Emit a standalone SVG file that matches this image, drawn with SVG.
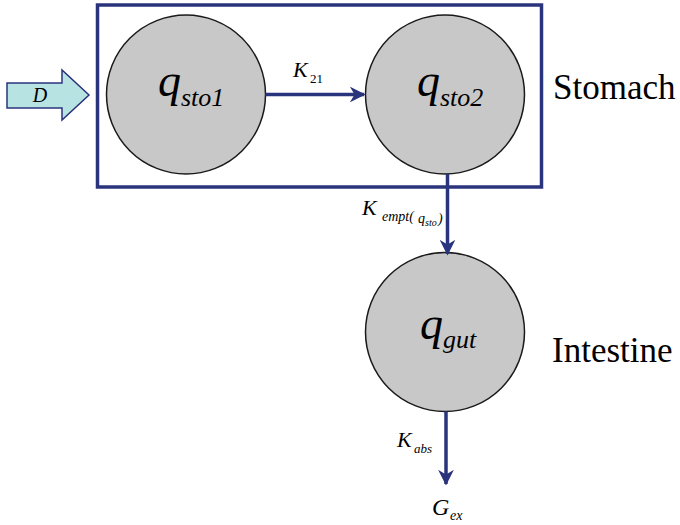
<svg xmlns="http://www.w3.org/2000/svg" width="680" height="525" viewBox="0 0 680 525">
<defs>
<marker id="ah" viewBox="0 0 10 10" refX="9" refY="5" markerWidth="4.5" markerHeight="4.5" markerUnits="strokeWidth" orient="auto">
<path d="M0,0 L10,5 L0,10 L3,5 Z" fill="#2a347c"/>
</marker>
</defs>
<rect x="97.5" y="5" width="444" height="182" fill="none" stroke="#2a347c" stroke-width="3.5"/>
<g id="input-D">
<path d="M7,83 L62,83 L62,70 L89,95 L62,120 L62,108 L7,108 Z" fill="#b8e3e3" stroke="#2a347c" stroke-width="1.5"/>
<text style="font-family:'Liberation Serif'" font-style="italic" x="40" y="102" font-size="20" text-anchor="middle">D</text>
</g>
<g id="q_sto1">
<circle fill="#c8c8c8" stroke="#1a1a1a" stroke-width="1.5" cx="186" cy="94.5" r="79.5"/>
<text style="font-family:'Liberation Serif'" font-style="italic" x="158" y="96" font-size="46">q</text>
<text style="font-family:'Liberation Serif'" font-style="italic" x="181" y="106" font-size="26">sto1</text>
</g>
<g id="q_sto2">
<circle fill="#c8c8c8" stroke="#1a1a1a" stroke-width="1.5" cx="445" cy="94.5" r="79.5"/>
<text style="font-family:'Liberation Serif'" font-style="italic" x="417" y="96" font-size="46">q</text>
<text style="font-family:'Liberation Serif'" font-style="italic" x="440" y="106" font-size="26">sto2</text>
</g>
<g id="q_gut">
<circle fill="#c8c8c8" stroke="#1a1a1a" stroke-width="1.5" cx="445" cy="332" r="79.5"/>
<text style="font-family:'Liberation Serif'" font-style="italic" x="420" y="339" font-size="46">q</text>
<text style="font-family:'Liberation Serif'" font-style="italic" x="443" y="348" font-size="26">gut</text>
</g>
<g id="connectors" stroke="#2a347c" stroke-width="3.5" fill="none">
<line x1="265.5" y1="94.5" x2="364" y2="94.5" marker-end="url(#ah)"/>
<line x1="447.5" y1="174" x2="447.5" y2="254" marker-end="url(#ah)"/>
<line x1="446" y1="411.5" x2="446" y2="484" marker-end="url(#ah)"/>
</g>
<g id="labels">
<text style="font-family:'Liberation Serif'" font-style="italic" x="293" y="77" font-size="22">K</text>
<text style="font-family:'Liberation Serif'" x="310" y="83" font-size="13">21</text>
<text style="font-family:'Liberation Serif'" font-style="italic" x="362" y="215" font-size="22">K</text>
<text style="font-family:'Liberation Serif'" font-style="italic" x="382" y="221" font-size="14">empt(</text>
<text style="font-family:'Liberation Serif'" font-style="italic" x="418" y="223" font-size="14">q</text>
<text style="font-family:'Liberation Serif'" font-style="italic" x="425" y="226" font-size="10">sto</text>
<text style="font-family:'Liberation Serif'" font-style="italic" x="438" y="223" font-size="14">)</text>
<text style="font-family:'Liberation Serif'" font-style="italic" x="397" y="447" font-size="22">K</text>
<text style="font-family:'Liberation Serif'" font-style="italic" x="414" y="453" font-size="13">abs</text>
<text style="font-family:'Liberation Serif'" font-style="italic" x="432" y="515" font-size="24">G</text>
<text style="font-family:'Liberation Serif'" font-style="italic" x="450" y="520" font-size="14">ex</text>
<text style="font-family:'Liberation Serif'" x="553" y="99" font-size="35">Stomach</text>
<text style="font-family:'Liberation Serif'" x="552" y="362" font-size="35">Intestine</text>
</g>
</svg>
